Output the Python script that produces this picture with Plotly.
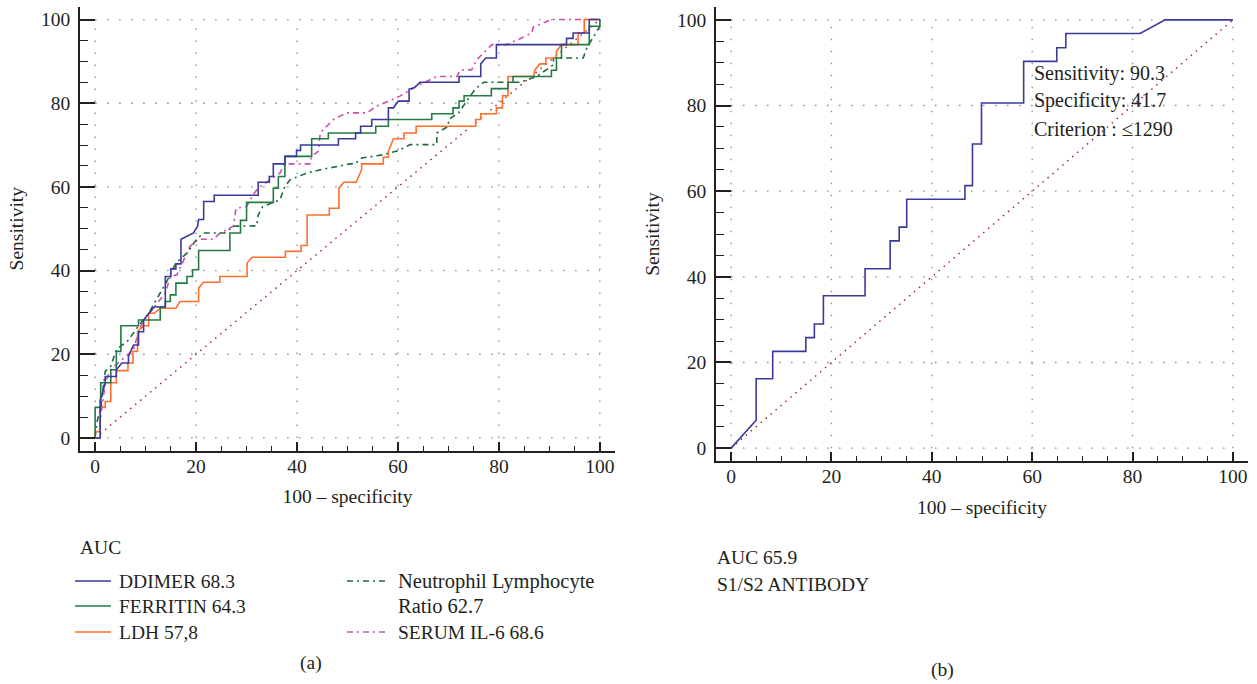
import plotly.graph_objects as go

# ---------------- data ----------------
ddimer_x = [0, 1.0, 1.0, 2.0, 2.0, 4.2, 4.2, 5.3, 6.6, 6.6, 7.6, 8.6, 8.6, 9.6, 9.6, 10.6, 11.7, 13.9, 13.9,
            15.0, 15.0, 16.0, 16.0, 17.0, 17.0, 19.5, 20.3, 20.5, 21.5, 21.5, 23.6, 23.6, 32.3, 32.3, 34.5, 34.5,
            35.3, 35.3, 37.6, 37.6, 39.9, 39.9, 40.7, 40.7, 48.2, 48.2, 51.6, 51.6, 52.6, 52.6, 54.8, 54.8, 58.1,
            58.1, 59.1, 60.1, 62.2, 62.2, 63.2, 64.4, 72.1, 72.1, 76.4, 76.4, 77.4, 79.5, 79.5, 93.4, 93.4, 94.7,
            94.7, 97.9, 97.9, 100]
ddimer_y = [0, 0, 9.0, 13.1, 14.7, 14.7, 16.3, 17.9, 17.9, 19.5, 22.2, 22.2, 25.4, 25.4, 28.2, 29.8, 31.3, 31.3, 38.6,
            38.6, 40.4, 40.4, 41.6, 41.6, 47.5, 49.0, 50.6, 52.2, 52.2, 56.5, 56.5, 58.0, 58.0, 61.1, 61.1, 62.5,
            62.5, 65.5, 65.5, 67.3, 67.3, 68.7, 68.7, 70.0, 70.0, 71.5, 71.5, 72.9, 72.9, 74.5, 74.5, 76.1, 76.1,
            78.9, 78.9, 80.5, 80.5, 83.4, 83.7, 85.0, 85.0, 86.4, 86.4, 89.4, 90.8, 90.8, 94.0, 94.0, 95.5, 95.5,
            96.8, 96.8, 100, 100]

ferritin_x = [0, 0, 1.1, 1.1, 3.1, 3.1, 4.2, 4.2, 5.1, 5.1, 8.6, 8.6, 12.9, 12.9, 13.9, 13.9, 14.9, 14.9, 16.0,
              16.0, 18.2, 18.2, 19.3, 19.3, 20.5, 20.5, 26.7, 26.7, 28.8, 28.8, 30.0, 30.0, 35.3, 35.3, 36.3, 36.3,
              37.6, 37.6, 42.9, 42.9, 46.2, 46.2, 55.6, 55.6, 58.1, 58.1, 66.7, 66.7, 70.9, 70.9, 72.1, 72.1, 73.1,
              73.1, 78.5, 78.5, 81.8, 81.8, 82.8, 82.8, 90.4, 90.4, 91.4, 91.4, 92.4, 92.4, 97.9, 97.9, 100, 100]
ferritin_y = [0, 7.3, 7.3, 13.2, 13.2, 16.3, 16.3, 20.7, 20.7, 26.8, 26.8, 28.2, 28.2, 31.3, 31.3, 32.6, 32.6, 34.2,
              34.2, 37.0, 37.0, 38.6, 38.6, 40.2, 40.2, 44.8, 44.8, 49.0, 49.0, 52.0, 52.0, 56.3, 56.3, 59.7, 59.7,
              62.5, 62.5, 67.3, 67.3, 71.5, 71.5, 72.9, 72.9, 74.5, 74.5, 76.1, 76.1, 77.5, 77.5, 78.9, 78.9, 80.5,
              80.5, 81.8, 81.8, 83.5, 83.5, 85.0, 85.0, 86.4, 86.4, 87.9, 87.9, 90.8, 90.8, 94.0, 94.0, 98.4, 98.4, 100]

ldh_x = [0, 0, 1.0, 1.0, 2.0, 2.0, 3.1, 3.1, 4.2, 4.2, 6.5, 6.5, 7.5, 7.5, 8.4, 8.4, 9.6, 10.6, 10.6, 11.7, 12.9,
         16.0, 16.8, 20.5, 20.5, 21.5, 24.7, 24.7, 30.1, 30.1, 31.1, 37.7, 37.7, 40.8, 40.8, 42.0, 42.0, 46.4, 46.4,
         48.3, 48.3, 49.3, 51.7, 52.8, 52.8, 57.1, 57.1, 58.1, 58.1, 59.1, 61.2, 61.2, 63.6, 63.6, 75.4, 75.4, 76.4,
         76.4, 79.5, 79.5, 80.7, 80.7, 81.8, 81.8, 86.9, 87.1, 88.1, 89.3, 89.3, 91.4, 91.4, 92.4, 95.7, 95.7, 96.9,
         96.9, 100]
ldh_y = [0, 1.5, 1.5, 7.3, 7.3, 8.7, 8.7, 13.2, 13.2, 16.1, 16.1, 17.9, 17.9, 20.7, 20.7, 25.4, 26.8, 26.8, 29.8,
         29.8, 31.0, 31.0, 32.6, 32.6, 35.8, 37.2, 37.2, 38.6, 38.6, 41.8, 43.2, 43.2, 44.6, 44.6, 46.0, 46.0, 53.3,
         53.3, 54.9, 54.9, 59.7, 61.1, 61.1, 64.1, 65.5, 65.5, 67.1, 67.1, 68.5, 71.5, 71.5, 72.9, 72.9, 74.5, 74.5,
         76.1, 76.1, 77.5, 77.5, 78.9, 78.9, 81.8, 81.8, 86.4, 86.4, 87.9, 89.4, 89.4, 90.8, 90.8, 92.4, 94.0, 94.0,
         96.8, 96.8, 100, 100]

nlr_x = [0, 0.3, 1.1, 2.0, 3.1, 4.2, 6.6, 8.6, 10.6, 12.9, 14.1, 16.0, 18.2, 20.1, 21.5, 25.7, 27.4, 32.0, 32.3,
         33.2, 36.6, 37.6, 38.6, 41.9, 44.6, 50.5, 51.5, 52.8, 57.1, 60.1, 62.4, 67.7, 67.7, 70.0, 70.0, 72.0, 75.3,
         77.0, 84.2, 87.5, 90.8, 90.8, 96.7, 97.4, 100, 100]
nlr_y = [0, 3.5, 7.3, 15.9, 17.1, 21.1, 23.4, 26.8, 29.8, 34.6, 37.2, 41.8, 44.2, 47.5, 49.0, 49.0, 50.6, 50.7, 53.3,
         55.3, 56.9, 60.1, 61.7, 63.3, 64.1, 65.5, 65.5, 66.9, 67.7, 68.7, 70.1, 70.1, 72.9, 74.5, 76.1, 77.7, 83.4,
         85.0, 85.0, 86.4, 89.2, 90.8, 90.8, 93.2, 98.4, 100]

il6_x = [0, 1.0, 1.0, 2.0, 3.0, 5.3, 7.6, 8.6, 9.6, 11.7, 13.9, 14.9, 16.2, 18.2, 18.8, 20.5, 23.4, 24.8, 27.4,
         27.9, 30.0, 31.4, 32.3, 36.6, 37.6, 42.6, 42.9, 44.2, 44.6, 47.2, 49.8, 53.8, 55.8, 58.1, 60.4, 63.7, 67.7,
         71.7, 72.3, 74.6, 75.6, 78.6, 81.5, 84.2, 86.5, 86.8, 90.4, 100]
il6_y = [0, 0, 4.3, 13.1, 16.3, 18.7, 21.1, 25.4, 28.2, 31.3, 34.6, 38.6, 39.0, 44.2, 45.8, 47.5, 47.5, 49.0, 50.6,
         54.9, 55.3, 58.3, 59.7, 63.3, 65.5, 65.5, 67.3, 68.5, 72.9, 76.1, 77.7, 77.7, 79.3, 80.5, 81.7, 84.1, 86.4,
         86.4, 87.9, 88.0, 90.4, 94.0, 94.0, 95.4, 96.8, 98.2, 100, 100]

s1s2_x = [0, 5.0, 5.0, 8.3, 8.3, 14.9, 14.9, 16.6, 16.6, 18.4, 18.4, 26.7, 26.7, 31.7, 31.7, 33.5, 33.5, 35.0, 35.0,
          46.6, 46.6, 48.1, 48.1, 49.9, 49.9, 58.3, 58.3, 64.9, 64.9, 66.7, 66.7, 81.5, 86.5, 100]
s1s2_y = [0, 6.5, 16.2, 16.2, 22.6, 22.6, 25.8, 25.8, 29.0, 29.0, 35.6, 35.6, 41.9, 41.9, 48.4, 48.4, 51.6, 51.6,
          58.1, 58.1, 61.3, 61.3, 71.0, 71.0, 80.6, 80.6, 90.3, 90.3, 93.5, 93.5, 96.8, 96.8, 100, 100]

diag = [0, 100]
grid_vals = [0, 20, 40, 60, 80, 100]

legend_left = [("DDIMER 68.3", "#3a3a9c", "solid"),
               ("FERRITIN 64.3", "#237a43", "solid"),
               ("LDH 57,8", "#ff6f2c", "solid")]
legend_right = [("Neutrophil Lymphocyte<br>Ratio 62.7", "#1d6b38", "6px,4px,2px,4px"),
                ("SERUM IL-6 68.6", "#cc4fb3", "6px,4px,2px,4px")]

# ---------------- figure ----------------
W, H = 1257, 684
FONT = "Liberation Serif"
FS = 19.5
TXT = "#231f20"

fig = go.Figure()

def px_x(p):
    return p / W

def px_y(p):
    return 1 - p / H

# grid (dotted) as shapes on data axes
shapes = []
for xr, yr in (("x", "y"), ("x2", "y2")):
    for g in grid_vals:
        shapes.append(dict(type="line", xref=xr, yref=yr, x0=g, x1=g, y0=0, y1=100, layer="below",
                           line=dict(color="#8a8a8a", width=1.3, dash="1.5px,10.5px")))
        shapes.append(dict(type="line", xref=xr, yref=yr, x0=0, x1=100, y0=g, y1=g, layer="below",
                           line=dict(color="#8a8a8a", width=1.3, dash="1.5px,10.5px")))

# diagonal reference lines
for xa, ya in (("x", "y"), ("x2", "y2")):
    fig.add_trace(go.Scatter(x=diag, y=diag, mode="lines", xaxis=xa, yaxis=ya, showlegend=False,
                             line=dict(color="#a11d2a", width=1.4, dash="1.5px,5px"), hoverinfo="skip"))

series = [
    (il6_x, il6_y, "#cc4fb3", "6px,4px,2px,4px", "SERUM IL-6"),
    (nlr_x, nlr_y, "#1d6b38", "6px,4px,2px,4px", "NLR"),
    (ldh_x, ldh_y, "#ff6f2c", "solid", "LDH"),
    (ferritin_x, ferritin_y, "#237a43", "solid", "FERRITIN"),
    (ddimer_x, ddimer_y, "#3a3a9c", "solid", "DDIMER"),
]
for xs, ys, col, dash, name in series:
    fig.add_trace(go.Scatter(x=xs, y=ys, mode="lines", name=name, showlegend=False,
                             line=dict(color=col, width=1.6, dash=dash), xaxis="x", yaxis="y"))

fig.add_trace(go.Scatter(x=s1s2_x, y=s1s2_y, mode="lines", name="S1/S2 ANTIBODY", showlegend=False,
                         line=dict(color="#3a3a9c", width=1.6), xaxis="x2", yaxis="y2"))

def xaxis_cfg(domain, anchor):
    return dict(domain=domain, anchor=anchor, range=[-3, 103], showline=True, linecolor="#231f20",
                linewidth=1.5, ticks="inside", ticklen=9, tickwidth=1.5, tickcolor="#231f20",
                tick0=0, dtick=20, showgrid=False, zeroline=False, fixedrange=True,
                minor=dict(dtick=5, ticks="inside", ticklen=5, tickwidth=1.2, tickcolor="#231f20", showgrid=False),
                tickfont=dict(family=FONT, size=FS, color=TXT), ticklabelstandoff=-3,
                title=dict(text="100 – specificity", font=dict(family=FONT, size=FS, color=TXT), standoff=14))

def yaxis_cfg(domain, anchor):
    return dict(domain=domain, anchor=anchor, range=[-3, 103], showline=True, linecolor="#231f20",
                linewidth=1.5, ticks="inside", ticklen=15, tickwidth=1.5, tickcolor="#231f20",
                tick0=0, dtick=20, showgrid=False, zeroline=False, fixedrange=True,
                minor=dict(dtick=5, ticks="inside", ticklen=8, tickwidth=1.2, tickcolor="#231f20", showgrid=False),
                tickfont=dict(family=FONT, size=FS, color=TXT), ticklabelstandoff=4,
                title=dict(text="Sensitivity", font=dict(family=FONT, size=FS, color=TXT), standoff=12))

annotations = []

def txt(text, x, y, xanchor="left", size=FS):
    annotations.append(dict(text=text, x=px_x(x), y=px_y(y), xref="paper", yref="paper", showarrow=False,
                            xanchor=xanchor, yanchor="middle", align="left",
                            font=dict(family=FONT, size=size, color=TXT)))

# legend (a)
txt("AUC", 78, 547)
rows = [581, 606, 632]
for (label, col, dash), yy in zip(legend_left, rows):
    shapes.append(dict(type="line", xref="paper", yref="paper", x0=px_x(75), x1=px_x(111),
                       y0=px_y(yy), y1=px_y(yy), line=dict(color=col, width=1.6, dash=dash)))
    txt(label, 117, yy)
# right column
shapes.append(dict(type="line", xref="paper", yref="paper", x0=px_x(347), x1=px_x(389),
                   y0=px_y(581), y1=px_y(581), line=dict(color=legend_right[0][1], width=1.6, dash=legend_right[0][2])))
txt("Neutrophil Lymphocyte", 396, 581, size=20.5)
txt("Ratio 62.7", 396, 606, size=20.5)
shapes.append(dict(type="line", xref="paper", yref="paper", x0=px_x(347), x1=px_x(389),
                   y0=px_y(632), y1=px_y(632), line=dict(color=legend_right[1][1], width=1.6, dash=legend_right[1][2])))
txt("SERUM IL-6 68.6", 396, 632)
txt("(a)", 311, 663, xanchor="center")

# legend (b)
txt("AUC 65.9", 715, 557)
txt("S1/S2 ANTIBODY", 715, 584)
txt("(b)", 942, 670, xanchor="center")

# criterion text in panel b
txt("Sensitivity: 90.3", 1032, 73, size=20)
txt("Specificity: 41.7", 1032, 101, size=20)
txt("Criterion : ≤1290", 1032, 129, size=20)

fig.update_layout(
    width=W, height=H,
    margin=dict(l=0, r=0, t=0, b=0),
    paper_bgcolor="white", plot_bgcolor="white",
    xaxis=xaxis_cfg([80 / W, 615 / W], "y"),
    yaxis=yaxis_cfg([1 - 450.5 / H, 1 - 7 / H], "x"),
    xaxis2=xaxis_cfg([716 / W, 1248 / W], "y2"),
    yaxis2=yaxis_cfg([1 - 461 / H, 1 - 7 / H], "x2"),
    shapes=shapes,
    annotations=annotations,
    showlegend=False,
    font=dict(family=FONT, color=TXT),
)
for ax in ("xaxis", "yaxis", "xaxis2", "yaxis2"):
    fig.layout[ax].automargin = False

fig.write_html("out.html", config={"displayModeBar": False},
               post_script="document.body.style.margin='0';document.body.style.overflow='hidden';")
